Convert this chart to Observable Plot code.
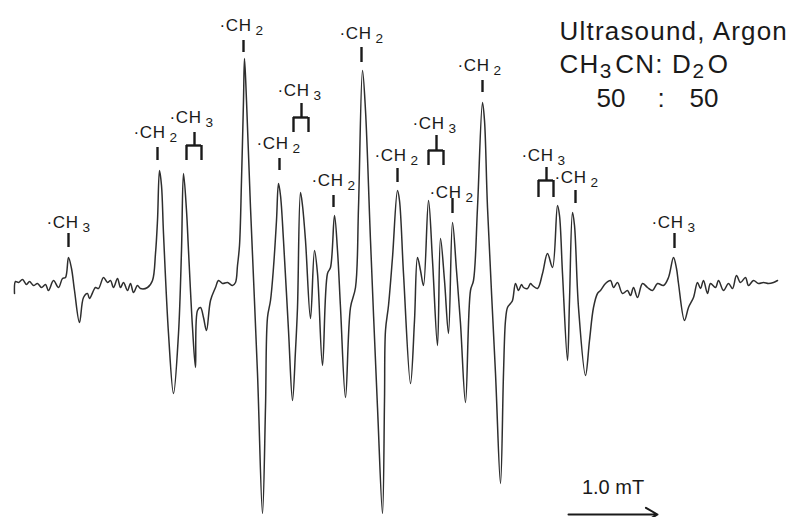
<!DOCTYPE html>
<html><head><meta charset="utf-8">
<script src="https://cdn.jsdelivr.net/npm/d3@7"></script>
<script src="https://cdn.jsdelivr.net/npm/@observablehq/plot@0.6"></script>
<style>body{margin:0;background:#fff} svg{display:block}</style>
</head><body><div id="chart"></div><script>
// ESR spectrum trace: field position (arbitrary units) and signal (a.u.)
const field = [14,15,18,22,26,29,33,37,41,45,48,53,58,62,65,68,71,74,79,83,87,89,95,98,103,107,110,113,117,120,123,127,130,133,137,140,147,152,155,157,159,161,163,168,173,178,181,183,186,188,192,195,197,200,203,206,210,215,218,222,227,232,235,237,239,241,243,244,246,250,257,262,265,267,270,273,276,278,280,283,288,292,295,297,300,302,305,310,314,317,322,327,330,334,337,340,345,350,355,358,362,365,370,377,382,384,385,388,392,397,399,403,410,414,417,420,423,428,432,437,440,444,448,452,456,460,465,470,473,477,482,484,487,495,500,503,505,507,510,512,515,518,521,523,527,530,532,537,542,547,552,557,559,562,567,569,572,574,578,585,589,593,597,600,605,610,613,617,622,627,630,633,637,642,647,652,657,663,668,673,676,678,684,688,693,697,700,703,707,710,715,718,723,728,732,736,740,745,748,753,758,763,768,773,777];
const signal = [-3,9,8,11,6,9,5,7,3,6,0,10,3,12,13,33,22,0,-32,-7,-3,-8,3,2,13,8,10,3,12,3,8,0,7,-2,5,2,3,10,37,70,120,105,57,-43,-103,-43,40,117,80,40,-37,-77,-20,-17,-27,-40,-10,3,10,7,8,5,8,25,45,110,190,232,190,83,-83,-223,-117,-27,-10,23,70,107,95,50,-40,-110,-60,-17,98,85,50,-28,40,17,-75,17,23,75,40,-17,-107,-17,3,83,220,180,50,-117,-223,-110,-40,-15,33,100,90,17,-93,-30,33,20,5,90,30,-55,52,10,-43,68,20,-33,-112,0,10,83,188,170,83,-83,-193,-83,-30,-17,-13,-10,7,0,6,3,2,7,5,2,17,37,23,85,75,17,-70,-10,78,65,-17,-85,-50,-17,-3,0,7,10,3,8,-3,0,-5,3,-7,7,3,0,7,5,13,33,22,7,-30,-17,-7,8,2,10,-3,7,3,10,0,7,2,15,8,13,5,10,7,8,7,8,10];

// Radical labels (text, left x, vertical position)
const labelText = ["·CH_3","·CH_2","·CH_3","·CH_2","·CH_3","·CH_2","·CH_2","·CH_2","·CH_2","·CH_3","·CH_2","·CH_2","·CH_3","·CH_2","·CH_3"];
const labelX = [46,133,169,219,277,256,311,339,374,412,429,457,521,554,651];
const labelY = [68,158,173,265,200,147,110,257,135,167,98,225,135,113,68];

// Single line markers
const tickX = [68,157,243,279,333,361,397,452,482,575,674];
const tickTop = [57,143,250,132,95,243,122,92,210,100,57];
const tickBottom = [43,130,238,120,83,228,108,77,198,87,42];

// Doublet brackets for ·CH3
const bracketX = [194,301,436,546];
const bracketTop = [158,187,155,123];
const bracketBar = [145,173,140,110];
const bracketLeft = [186,293,428,538];
const bracketRight = [201,308,443,553];
const bracketBottom = [130,158,125,93];

// Annotation block
const titleLines = ["Ultrasound, Argon","CH_3CN: D_2O"];
const titleX = [559,559];
const titleY = [259,226];
const ratioText = ["50",":","50"];
const ratioX = [596,657,689];
const ratioY = [192,192,192];

// Scale bar
const scaleLabel = "1.0 mT";
const scaleX1 = 568, scaleX2 = 657, scaleY = -224, scaleLabelY = -197;

const trace = field.map((x,i)=>({x, y: signal[i]}));
const labels = labelText.map((t,i)=>({t, x: labelX[i], y: labelY[i]}));
const ticks = tickX.map((x,i)=>({x, y1: tickTop[i], y2: tickBottom[i]}));
const brackets = bracketX.map((x,i)=>({x, top: bracketTop[i], bar: bracketBar[i], l: bracketLeft[i], r: bracketRight[i], b: bracketBottom[i]}));
const legs = brackets.flatMap(d=>[{x:d.l, y1:d.bar, y2:d.b},{x:d.r, y1:d.bar, y2:d.b}]);
const titles = titleLines.map((t,i)=>({t, x:titleX[i], y:titleY[i]}));
const ratios = ratioText.map((t,i)=>({t, x:ratioX[i], y:ratioY[i]}));

const ink = "#1a1a1a";
const plot = Plot.plot({
  width: 811, height: 517, margin: 0,
  x: {domain:[0,811], axis:null},
  y: {domain:[-227,290], axis:null},
  style: {background:"#fff", fontFamily:"'Liberation Sans', Arial, Helvetica, sans-serif"},
  marks: [
    Plot.line(trace, {x:"x", y:"y", stroke:"#2e2e2e", strokeWidth:1.5, curve:"catmull-rom"}),
    Plot.ruleX(ticks, {x:"x", y1:"y1", y2:"y2", stroke:ink, strokeWidth:2.4}),
    Plot.ruleX(brackets, {x:"x", y1:"top", y2:"bar", stroke:ink, strokeWidth:2.4}),
    Plot.ruleY(brackets, {y:"bar", x1:"l", x2:"r", stroke:ink, strokeWidth:2.4}),
    Plot.ruleX(legs, {x:"x", y1:"y1", y2:"y2", stroke:ink, strokeWidth:2.4}),
    Plot.text(labels, {x:"x", y:"y", text:"t", textAnchor:"start", fontSize:17, fill:ink, className:"subbed lbl"}),
    Plot.text(titles, {x:"x", y:"y", text:"t", textAnchor:"start", fontSize:26, fill:ink, className:"subbed ttl"}),
    Plot.text(ratios, {x:"x", y:"y", text:"t", textAnchor:"start", fontSize:26, fill:ink}),
    Plot.text([scaleLabel], {x:[(scaleX1+scaleX2)/2], y:[scaleLabelY], text:d=>d, fontSize:20, fill:ink, className:"scl"}),
    Plot.arrow([0], {x1:()=>scaleX1, x2:()=>scaleX2, y1:()=>scaleY, y2:()=>scaleY, stroke:ink, strokeWidth:2, headLength:10})
  ]
});
document.getElementById("chart").appendChild(plot);
d3.select(plot).selectAll(".ttl text").style("letter-spacing","1.2px");
d3.select(plot).selectAll(".lbl text").style("letter-spacing","0.6px");

// Turn "_n" into real subscripts
function subscript(sel, gap, drop, after) {
  sel.each(function(){
    const s = this.textContent;
    if (!s.includes("_")) return;
    const el = d3.select(this);
    el.text(null);
    const parts = s.split(/_(\d)/);
    let down = false;
    parts.forEach((p,i)=>{
      if (p === "") return;
      if (i % 2 === 1) {
        el.append("tspan").attr("dx",gap).attr("dy",drop).attr("font-size","0.8em").text(p);
        down = true;
      } else {
        const t = el.append("tspan").text(p);
        if (down) { t.attr("dy","-" + (parseFloat(drop)*0.8) + "em").attr("dx",after); down = false; }
      }
    });
  });
}
subscript(d3.select(plot).selectAll(".lbl text"), "0.3em", "0.32em", "0.08em");
subscript(d3.select(plot).selectAll(".ttl text"), "0.02em", "0.25em", "0.1em");
</script></body></html>
